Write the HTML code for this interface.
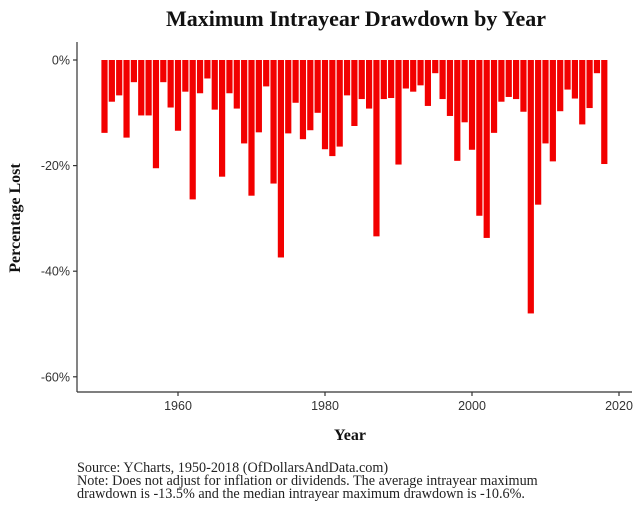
<!DOCTYPE html>
<html><head><meta charset="utf-8"><style>
body{margin:0;background:#fff;}
svg{display:block;font-family:"Liberation Serif",serif;}
</style></head><body>
<svg id="chart" width="640" height="512">
<text x="356" y="26" text-anchor="middle" font-size="22" font-weight="bold" fill="#111">Maximum Intrayear Drawdown by Year</text>
<g id="bars"></g>
<g id="axes"></g>
<text x="350" y="440" text-anchor="middle" font-size="16" font-weight="bold" fill="#111">Year</text>
<text transform="translate(20,218) rotate(-90)" text-anchor="middle" font-size="16" font-weight="bold" fill="#111">Percentage Lost</text>
<g font-size="14.2" fill="#222">
<text x="77" y="472">Source:  YCharts, 1950-2018 (OfDollarsAndData.com)</text>
<text x="77" y="485">Note: Does not adjust for inflation or dividends. The average intrayear maximum</text>
<text x="77" y="498">drawdown is -13.5% and the median intrayear maximum drawdown is -10.6%.</text>
</g>
</svg>
<script>
const startYear = 1950;
const drawdowns = [-13.8,-7.9,-6.7,-14.7,-4.2,-10.5,-10.5,-20.5,-4.2,-9.0,
-13.4,-6.0,-26.4,-6.3,-3.5,-9.4,-22.1,-6.3,-9.2,-15.8,
-25.7,-13.7,-5.0,-23.4,-37.4,-13.9,-8.1,-15.0,-13.3,-10.0,
-16.9,-18.2,-16.4,-6.7,-12.5,-7.4,-9.2,-33.4,-7.4,-7.2,
-19.8,-5.4,-6.0,-4.8,-8.7,-2.5,-7.4,-10.6,-19.1,-11.8,
-17.0,-29.5,-33.7,-13.8,-7.9,-7.0,-7.4,-9.8,-48.0,-27.4,
-15.8,-19.2,-9.7,-5.6,-7.3,-12.2,-9.1,-2.5,-19.7];
const xTicks = [1960,1980,2000,2020];
const yTicks = [0,-20,-40,-60];
const yTickLabels = ["0%","-20%","-40%","-60%"];

const NS="http://www.w3.org/2000/svg";
const X=y=>178+(y-1960)*7.35;
const Y=v=>60-v*5.28;
const bars=document.getElementById('bars');
drawdowns.forEach((v,i)=>{
  const r=document.createElementNS(NS,'rect');
  const cx=X(startYear+i);
  r.setAttribute('x',cx-3.1);r.setAttribute('width',6.2);
  r.setAttribute('y',Y(0));r.setAttribute('height',Y(v)-Y(0));
  r.setAttribute('fill','#f20000');
  
  
  bars.appendChild(r);
});
const ax=document.getElementById('axes');
function ln(x1,y1,x2,y2){const l=document.createElementNS(NS,'line');l.setAttribute('x1',x1);l.setAttribute('y1',y1);l.setAttribute('x2',x2);l.setAttribute('y2',y2);l.setAttribute('stroke','#333');l.setAttribute('stroke-width','1.2');ax.appendChild(l);return l;}
function tx(x,y,s,a){const t=document.createElementNS(NS,'text');t.setAttribute('x',x);t.setAttribute('y',y);t.setAttribute('text-anchor',a);t.setAttribute('font-size','12.5');t.setAttribute('fill','#333');t.setAttribute('font-family','"Liberation Sans",sans-serif');t.textContent=s;ax.appendChild(t);return t;}
ln(77,42,77,392);ln(77,392,632,392);
yTicks.forEach((v,i)=>{ln(73,Y(v),77,Y(v));
  const t=tx(70,Y(v)+4.5,yTickLabels[i],'end');
  
  });
xTicks.forEach(v=>{ln(X(v),392,X(v),396);
  const t=tx(X(v),410,String(v),'middle');
  
  });
</script>
</body></html>
